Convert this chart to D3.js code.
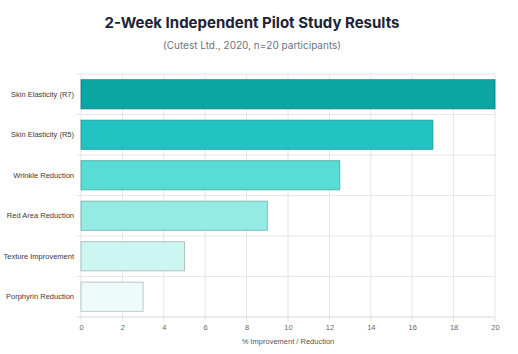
<!DOCTYPE html>
<meta charset="utf-8">
<html>
<head>
    <title>Pilot Study Results</title>
    <style>
        body { margin: 0; background: #fff; }
        svg { display: block; }
        .title { font-family: Inter, sans-serif; font-weight: 700; font-size: 15px; fill: #1b2436; text-anchor: middle; }
        .subtitle { font-family: Inter, sans-serif; font-size: 10px; fill: #6b7485; text-anchor: middle; }
        .cat { font-family: "Liberation Sans", Arial, sans-serif; font-size: 7.5px; fill: #3a3a3a; text-anchor: end; }
        .tick text { font-family: "Liberation Sans", Arial, sans-serif; font-size: 7.5px; fill: #666; }
        .axis-title { font-family: "Liberation Sans", Arial, sans-serif; font-size: 7.5px; fill: #555; text-anchor: middle; }
    </style>
    <script src="https://d3js.org/d3.v7.min.js"></script>
</head>
<body>
<div id="chart"></div>
<script>
    // data
    var categories = ["Skin Elasticity (R7)", "Skin Elasticity (R5)", "Wrinkle Reduction",
                      "Red Area Reduction", "Texture Improvement", "Porphyrin Reduction"];
    var values = [20, 17, 12.5, 9, 5, 3];
    var xTicks = [0, 2, 4, 6, 8, 10, 12, 14, 16, 18, 20];
    var fills = ["#0ba6a4", "#22c3c2", "#59dcd5", "#93ebe3", "#cdf6f2", "#eefbfb"];

    var W = 518, H = 354;
    var margin = { top: 74, right: 23, bottom: 37, left: 81 };
    var width = W - margin.left - margin.right,
        height = H - margin.top - margin.bottom;

    var svg = d3.select("#chart").append("svg")
        .attr("width", W)
        .attr("height", H);

    svg.append("text").attr("class", "title")
        .attr("x", 252).attr("y", 28)
        .text("2-Week Independent Pilot Study Results");

    svg.append("text").attr("class", "subtitle")
        .attr("x", 252).attr("y", 49)
        .text("(Cutest Ltd., 2020, n=20 participants)");

    var g = svg.append("g")
        .attr("transform", "translate(" + margin.left + "," + margin.top + ")");

    var x = d3.scaleLinear().domain([0, 20]).range([0, width]);
    var y = d3.scaleBand().domain(categories).range([0, height]);

    // vertical grid
    g.append("g")
        .selectAll("line")
        .data(xTicks)
        .enter().append("line")
        .attr("x1", d => x(d)).attr("x2", d => x(d))
        .attr("y1", 0).attr("y2", height + 4)
        .attr("stroke", "#e6e6e6").attr("stroke-width", 1);

    // horizontal grid (band edges)
    var edges = categories.map(c => y(c)).concat([height]);
    g.append("g")
        .selectAll("line")
        .data(edges)
        .enter().append("line")
        .attr("x1", -4).attr("x2", width)
        .attr("y1", d => d).attr("y2", d => d)
        .attr("stroke", (d, i) => i == edges.length - 1 ? "#d8d8d8" : "#e6e6e6")
        .attr("stroke-width", 1);

    // bars
    var barH = y.bandwidth() * 0.72;
    g.append("g")
        .selectAll("rect")
        .data(values)
        .enter().append("rect")
        .attr("x", x(0))
        .attr("y", (d, i) => y(categories[i]) + (y.bandwidth() - barH) / 2)
        .attr("width", d => x(d) - x(0))
        .attr("height", barH)
        .attr("fill", (d, i) => fills[i])
        .attr("stroke", (d, i) => d3.color(fills[i]).darker(0.9).copy({opacity: 0.75}))
        .attr("stroke-width", 1);

    // category labels
    g.append("g")
        .selectAll("text")
        .data(categories)
        .enter().append("text")
        .attr("class", "cat")
        .attr("x", -7)
        .attr("y", d => y(d) + y.bandwidth() / 2)
        .attr("dy", "0.35em")
        .text(d => d);

    // x axis labels
    var xAxis = g.append("g")
        .attr("transform", "translate(0," + height + ")")
        .call(d3.axisBottom(x).tickValues(xTicks).tickSize(0).tickPadding(8));
    xAxis.select(".domain").remove();

    svg.append("text").attr("class", "axis-title")
        .attr("x", margin.left + width / 2)
        .attr("y", 344)
        .text("% Improvement / Reduction");
</script>
</body>
</html>
